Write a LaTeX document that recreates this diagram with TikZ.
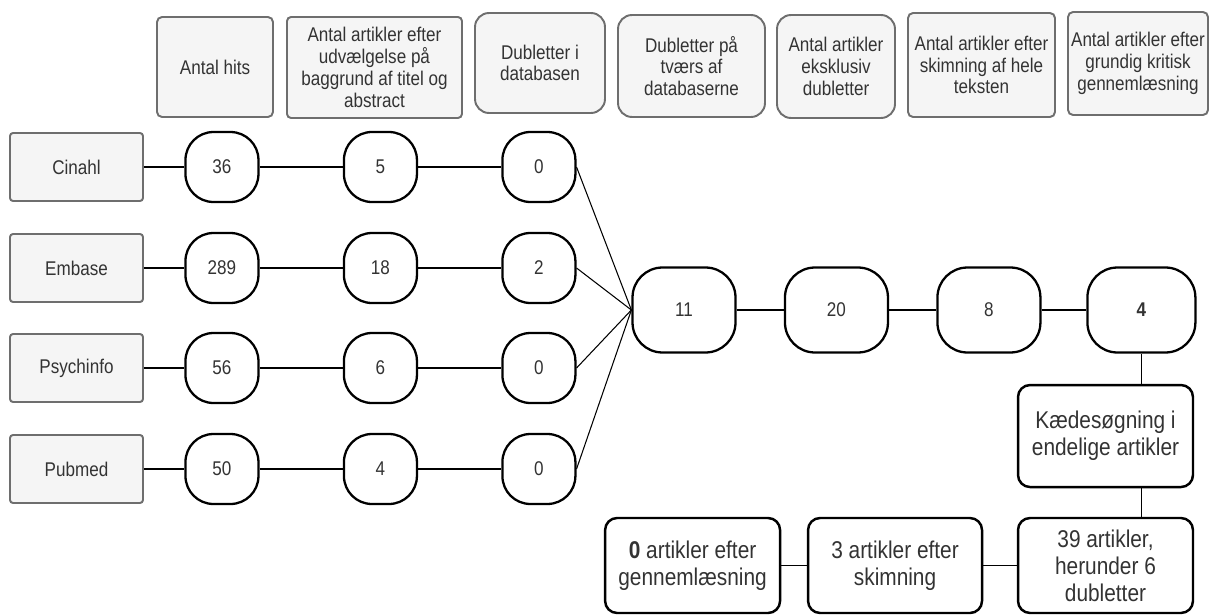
\documentclass[tikz,border=0pt]{standalone}
\usepackage{fontspec}
\setmainfont[FakeStretch=0.86]{Liberation Sans}
\usetikzlibrary{positioning}
\definecolor{boxgray}{RGB}{245,245,245}
\definecolor{edgegray}{RGB}{110,110,110}
\definecolor{txtgray}{RGB}{51,51,51}

\begin{document}
\begin{tikzpicture}[-,x=0.02cm,y=-0.02cm,node distance=3.17cm,
    every node/.style={font=\fontsize{11.3}{12.4}\selectfont,text=txtgray,align=center,inner sep=1pt},
    head node/.style={rectangle,draw=edgegray,fill=boxgray,line width=1.1pt,rounded corners=0.1cm},
    db node/.style={rectangle,draw=edgegray,fill=boxgray,line width=1.1pt,rounded corners=0.06cm,
                    minimum width=2.66cm,minimum height=1.36cm},
    hit node/.style={rectangle,draw,fill=white,line width=1.3pt,rounded corners=0.56cm,
                     minimum width=1.46cm,minimum height=1.4cm},
    sum node/.style={rectangle,draw,fill=white,line width=1.3pt,rounded corners=0.6cm,
                     minimum width=2.06cm,minimum height=1.7cm},
    end node/.style={rectangle,draw,fill=white,line width=1.4pt,rounded corners=0.24cm,
                     minimum width=3.5cm,font=\fontsize{13.8}{15.4}\selectfont}]
  \useasboundingbox (0,0) rectangle (1210,615);

  %Overskrifter%
  \node[head node,minimum width=2.32cm,minimum height=2cm] (h1) at (215,67) {Antal hits};
  \node[head node,rounded corners=0.08cm,minimum width=3.5cm,minimum height=2.02cm] (h2) at (374.5,67.5)
    {Antal artikler efter\\udvælgelse på\\baggrund af titel og\\abstract};
  \node[head node,rounded corners=0.28cm,minimum width=2.6cm,minimum height=2cm] (h3) at (540,63)
    {Dubletter i\\databasen};
  \node[head node,rounded corners=0.28cm,minimum width=2.94cm,minimum height=2.04cm] (h4) at (691.5,66)
    {Dubletter på\\tværs af\\databaserne};
  \node[head node,rounded corners=0.28cm,minimum width=2.36cm,minimum height=2.06cm] (h5) at (836,66.5)
    {Antal artikler\\eksklusiv\\dubletter};
  \node[head node,minimum width=2.94cm,minimum height=2.08cm] (h6) at (981.5,65)
    {Antal artikler efter\\skimning af hele\\teksten};
  \node[head node,minimum width=2.8cm,minimum height=2.06cm] (h7) at (1138,63.5)
    {Antal artikler efter\\grundig kritisk\\gennemlæsning};

  %Databaser%
  \node[db node] (cinahl) at (76.5,167) {Cinahl};
  \node[hit node] (c1)[right of=cinahl, node distance=2.91cm] {36};
  \node[hit node] (c2)[right of=c1] {5};
  \node[hit node] (c3)[right of=c2] {0};

  \node[db node] (embase) at (76.5,268) {Embase};
  \node[hit node] (e1)[right of=embase, node distance=2.91cm] {289};
  \node[hit node] (e2)[right of=e1] {18};
  \node[hit node] (e3)[right of=e2] {2};

  \node[db node] (psych) at (76.5,368) {Psychinfo};
  \node[hit node] (p1)[right of=psych, node distance=2.91cm] {56};
  \node[hit node] (p2)[right of=p1] {6};
  \node[hit node] (p3)[right of=p2] {0};

  \node[db node] (pubmed) at (76.5,469) {Pubmed};
  \node[hit node] (u1)[right of=pubmed, node distance=2.91cm] {50};
  \node[hit node] (u2)[right of=u1] {4};
  \node[hit node] (u3)[right of=u2] {0};

  %Samlet%
  \node[sum node] (m1) at (684,310) {11};
  \node[sum node] (m2)[right of=m1, node distance=3.05cm] {20};
  \node[sum node] (m3)[right of=m2, node distance=3.05cm] {8};
  \node[sum node,minimum width=2.16cm] (m4)[right of=m3, node distance=3.05cm] {\textbf{4}};

  %Kaedesoegning%
  \node[end node,minimum height=1.9cm] (n39) at (1105.5,565.5) {39 artikler,\\herunder 6\\dubletter};
  \node[end node,minimum height=2.04cm] (kaede)[above of=n39, node distance=2.59cm]
    {Kædesøgning i\\endelige artikler};
  \node[end node,minimum width=3.48cm,minimum height=1.9cm] (n3)[left of=n39, node distance=4.21cm]
    {3 artikler efter\\skimning};
  \node[end node,minimum height=1.9cm] (n0)[left of=n3, node distance=4.05cm]
    {\textbf{0} artikler efter\\gennemlæsning};

  \path[line width=0.8pt]
    (cinahl) edge (c1) (c1) edge (c2) (c2) edge (c3)
    (embase) edge (e1) (e1) edge (e2) (e2) edge (e3)
    (psych) edge (p1) (p1) edge (p2) (p2) edge (p3)
    (pubmed) edge (u1) (u1) edge (u2) (u2) edge (u3)
    (m1) edge (m2) (m2) edge (m3) (m3) edge (m4)
    (n39) edge (n3) (n3) edge (n0);
  \path[line width=0.6pt]
    (c3.east) edge (m1.west)
    (e3.east) edge (m1.west)
    (p3.east) edge (m1.west)
    (u3.east) edge (m1.west);
  \draw[line width=0.7pt] (m4.south) -- (m4.south |- kaede.north);
  \draw[line width=0.7pt] (kaede.south -| m4) -- (n39.north -| m4);
\end{tikzpicture}
\end{document}
